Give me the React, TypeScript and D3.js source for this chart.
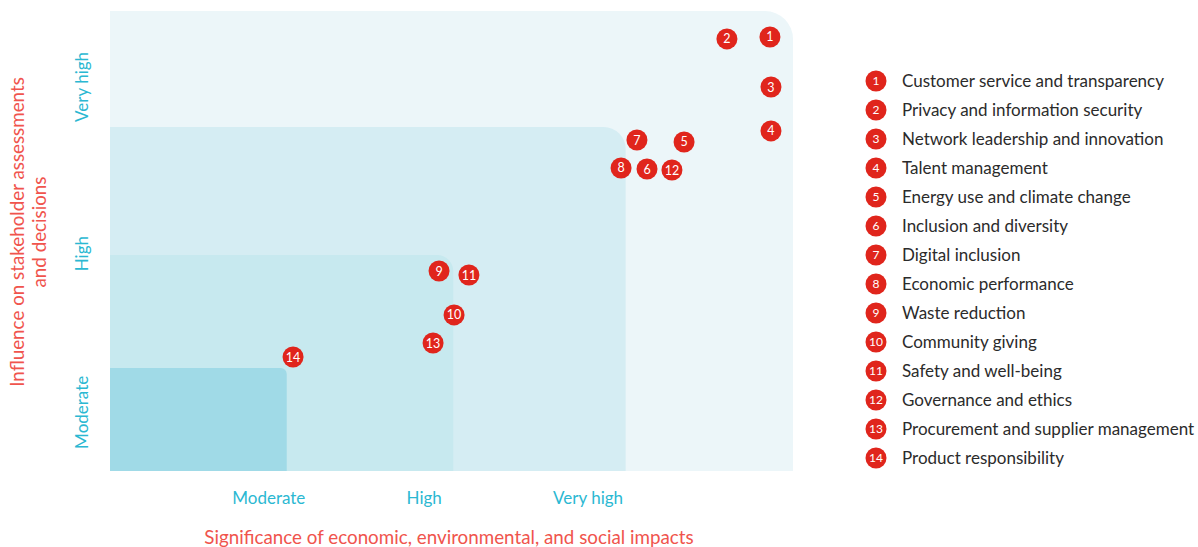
import React from "react";
import * as d3 from "d3";

const topics = [
  "Customer service and transparency",
  "Privacy and information security",
  "Network leadership and innovation",
  "Talent management",
  "Energy use and climate change",
  "Inclusion and diversity",
  "Digital inclusion",
  "Economic performance",
  "Waste reduction",
  "Community giving",
  "Safety and well-being",
  "Governance and ethics",
  "Procurement and supplier management",
  "Product responsibility",
];
// significance (x) and influence (y), on a 0-4 scale
const significance = [3.865, 3.613, 3.871, 3.871, 3.362, 3.145, 3.086, 2.993, 1.927, 2.015, 2.102, 3.291, 1.892, 1.072];
const influence = [3.774, 3.757, 3.339, 2.957, 2.861, 2.626, 2.878, 2.635, 1.739, 1.357, 1.704, 2.617, 1.113, 0.991];

const levelLabels = ["Moderate", "High", "Very high"];
const xLabelPos = [0.93, 1.84, 2.8];
const yLabelPos = [0.51, 1.89, 3.34];
const xBandEdges = [1.035, 2.01, 3.02, 4];
const yBandEdges = [0.896, 1.878, 2.991, 4];

const bandFills = ["#A0DAE7", "#C7E9EF", "#D5EDF3", "#ECF6F9"];
const bandRadii = [6, 16, 22, 28];

const RED = "#E0251C";
const CYAN = "#2BB8D2";
const TITLE = "#F0544D";
const FONT = "Lato, 'Open Sans', sans-serif";

function roundedTopRight(x0: number, y0: number, x1: number, y1: number, r: number) {
  const p = d3.path();
  p.moveTo(x0, y1);
  p.lineTo(x0, y0);
  p.lineTo(x1 - r, y0);
  p.arcTo(x1, y0, x1, y0 + r, r);
  p.lineTo(x1, y1);
  p.closePath();
  return p.toString();
}

export default function App() {
  const W = 1198, H = 547;
  const x = d3.scaleLinear().domain([0, 4]).range([110, 793]);
  const y = d3.scaleLinear().domain([0, 4]).range([471, 11]);
  const legend = d3.scaleLinear().domain([0, 13]).range([81, 458]);

  const bands = [3, 2, 1, 0];

  return (
    <svg width={W} height={H} style={{ position: "absolute", left: 0, top: 0 }} fontFamily={FONT}>
      {bands.map((i) => (
        <path
          key={i}
          d={roundedTopRight(x(0), y(yBandEdges[i]), x(xBandEdges[i]), y(0), bandRadii[i])}
          fill={bandFills[i]}
        />
      ))}
      {levelLabels.map((l, i) => (
        <text key={"x" + i} x={x(xLabelPos[i])} y={504} fill={CYAN} fontSize={17} textAnchor="middle">
          {l}
        </text>
      ))}
      {levelLabels.map((l, i) => (
        <text
          key={"y" + i}
          transform={`translate(88,${y(yLabelPos[i])}) rotate(-90)`}
          fill={CYAN}
          fontSize={17}
          textAnchor="middle"
        >
          {l}
        </text>
      ))}
      <text x={449} y={544} fill={TITLE} fontSize={18.8} textAnchor="middle">
        Significance of economic, environmental, and social impacts
      </text>
      <g transform={`translate(0,${232}) rotate(-90)`}>
        <text x={0} y={24} fill={TITLE} fontSize={18.8} textAnchor="middle">
          Influence on stakeholder assessments
        </text>
        <text x={0} y={46} fill={TITLE} fontSize={18.8} textAnchor="middle">
          and decisions
        </text>
      </g>
      {topics.map((t, i) => (
        <g key={"p" + i} transform={`translate(${x(significance[i])},${y(influence[i])})`}>
          <circle r={10.5} fill={RED} />
          <text fill="#fff" fontSize={12.5} textAnchor="middle" dy="0.36em">
            {i + 1}
          </text>
        </g>
      ))}
      {topics.map((t, i) => (
        <g key={"l" + i} transform={`translate(876,${legend(i)})`}>
          <circle r={10.5} fill={RED} />
          <text fill="#fff" fontSize={12} textAnchor="middle" dy="0.36em">
            {i + 1}
          </text>
          <text x={26} fill="#2b2b2b" fontSize={17} dy="0.35em">
            {t}
          </text>
        </g>
      ))}
    </svg>
  );
}
